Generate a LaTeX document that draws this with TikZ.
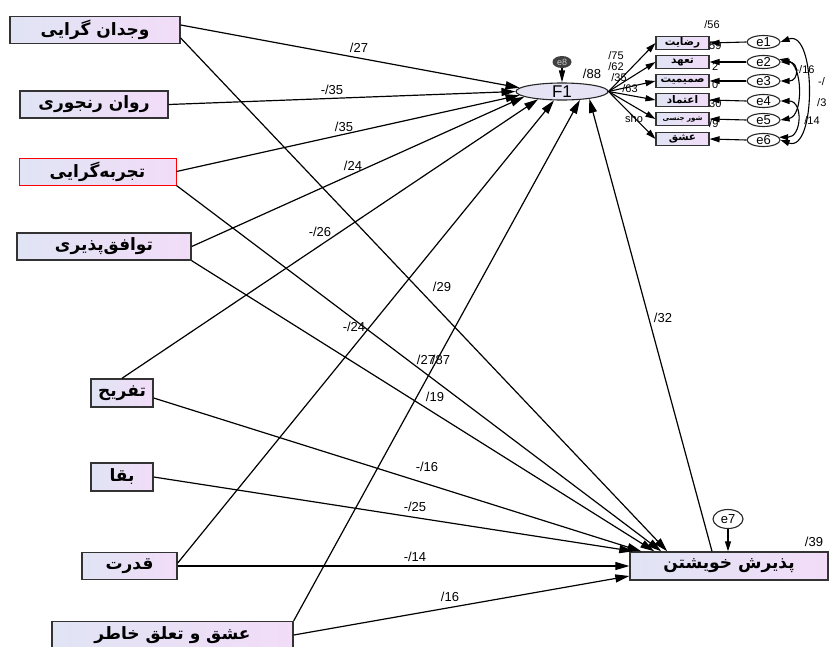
\documentclass[tikz,border=0pt]{standalone}
\usepackage{fontspec}
\setmainfont{Liberation Sans}
\newfontfamily\fa[Script=Arabic]{DejaVu Sans}
\TeXXeTstate=1
\usetikzlibrary{arrows.meta,shapes.geometric}
\definecolor{boxL}{RGB}{224,228,244}
\definecolor{boxR}{RGB}{242,220,248}
\definecolor{ellF}{RGB}{230,228,244}
\newcommand{\fatxt}[1]{\beginR #1\endR}
\begin{document}
\begin{tikzpicture}[x=1pt,y=-1pt,
 lbox/.style={draw=black!80, line width=1.4pt, left color=boxL, right color=boxR, minimum height=27pt, inner sep=0pt, font=\fa\bfseries\fontsize{17}{17}\selectfont},
 sbox/.style={draw=black!80, line width=1.1pt, left color=boxL, right color=boxR, minimum width=53pt, minimum height=13pt, inner sep=0pt, font=\fa\bfseries\fontsize{10.5}{10.5}\selectfont},
 errn/.style={ellipse, draw=black!85, line width=1.1pt, fill=white, minimum width=33pt, minimum height=13pt, inner sep=0pt, font=\fontsize{13}{13}\selectfont},
 arr/.style={-{Triangle[length=14pt,width=8pt]}, line width=1.2pt},
 sarr/.style={-{Triangle[length=10pt,width=6pt]}, line width=1.1pt},
 covar/.style={{Triangle[length=9pt,width=6pt]}-{Triangle[length=9pt,width=6pt]}, line width=1.1pt},
 lab/.style={inner sep=0pt, font=\fontsize{13}{13}\selectfont},
 slab/.style={inner sep=0pt, font=\fontsize{11}{11}\selectfont}]
\useasboundingbox (0,0) rectangle (829,646);
\fill[white] (0,0) rectangle (829,646);

% left observed variables
\node[lbox, minimum width=170pt] (vojdan) at (95,30) {\fatxt{وجدان گرایی}};
\node[lbox, minimum width=148pt] (ravan) at (94,104.5) {\fatxt{روان رنجوری}};
\node[lbox, minimum width=157pt, draw=red, line width=1pt] (tajrobe) at (97.5,171.5) {\fatxt{تجربه‌گرایی}};
\node[lbox, minimum width=174pt] (tavafogh) at (104,246.5) {\fatxt{توافق‌پذیری}};
\node[lbox, minimum width=62pt, minimum height=28pt] (tafrih) at (122,393) {\fatxt{تفریح}};
\node[lbox, minimum width=62pt, minimum height=28pt] (baqa) at (122,477) {\fatxt{بقا}};
\node[lbox, minimum width=95pt] (qodrat) at (129.5,566) {\fatxt{قدرت}};
\node[lbox, minimum width=241pt] (eshq) at (172.5,635) {\fatxt{عشق و تعلق خاطر}};
\node[lbox, minimum width=198pt, minimum height=28pt] (paz) at (729,566) {\fatxt{پذیرش خویشتن}};

% latent
\node[ellipse, draw=black!85, line width=1.1pt, fill=ellF, minimum width=92pt, minimum height=17pt, inner sep=0pt, font=\fontsize{17}{17}\selectfont] (F1) at (562,91.5) {F1};
\node[ellipse, fill=black!75, text=white!80!black, minimum width=19pt, minimum height=12pt, inner sep=0pt, font=\fontsize{9}{9}\selectfont] (e8) at (562,62) {e8};
\node[errn, minimum width=30pt, minimum height=19pt] (e7) at (728,519) {e7};

% indicators
\node[sbox] (s1) at (682.5,43) {\fatxt{رضایت}};
\node[sbox] (s2) at (682.5,62) {\fatxt{تعهد}};
\node[sbox] (s3) at (682.5,81) {\fatxt{صمیمیت}};
\node[sbox] (s4) at (682.5,100) {\fatxt{اعتماد}};
\node[sbox] (s5) at (682.5,119) {\fatxt{\fontsize{7}{7}\selectfont شور جنسی}};
\node[sbox] (s6) at (682.5,139) {\fatxt{عشق}};
\node[errn] (e1) at (763.5,42) {e1};
\node[errn] (e2) at (763.5,62) {e2};
\node[errn] (e3) at (763.5,81) {e3};
\node[errn] (e4) at (763.5,101) {e4};
\node[errn] (e5) at (763.5,120) {e5};
\node[errn] (e6) at (763.5,140) {e6};

% small labels near indicators
\node[slab] (l56) at (712,25) {/56};
\node[slab] (l75) at (616,56) {/75};
\node[slab] (l62) at (616,67) {/62};
\node[slab] (l35b) at (619,78) {/35};
\node[slab] (l63) at (630,89) {/63};
\node[slab] (lsho) at (634,119) {sho};
\node[slab, anchor=west] (r1) at (709,46) {59};
\node[slab, anchor=west] (r2) at (712,67) {2};
\node[slab, anchor=west] (r3) at (712,85) {0};
\node[slab, anchor=west] (r4) at (709,104) {30};
\node[slab, anchor=west] (r5) at (709,124) {/9};

% paths into F1
\draw[arr] ([yshift=5pt]vojdan.east) -- (F1.175);
\draw[arr] (ravan.east) -- (F1.180);
\draw[arr] (tajrobe.east) -- (F1.185);
\draw[arr] (tavafogh.east) -- (F1.188);
\draw[arr] (tafrih.north) -- (F1.198);
\draw[arr] ([yshift=3pt]qodrat.east) -- (F1.228);
\draw[arr] (eshq.north east) -- (F1.335);
\draw[arr] ([xshift=-17pt]paz.north) -- (F1.345);
\draw[-{Triangle[length=12pt,width=6pt]}, line width=1.2pt] (e8) -- (F1.north);

% paths into paz
\draw[arr] ([yshift=-8pt]vojdan.east) -- ([xshift=38pt]paz.north west);
\draw[arr] (tajrobe.south east) -- ([xshift=32pt]paz.north west);
\draw[arr] (tavafogh.south east) -- ([xshift=25pt]paz.north west);
\draw[arr] ([yshift=-5pt]tafrih.east) -- ([xshift=12pt]paz.north west);
\draw[arr] (baqa.east) -- ([xshift=4pt]paz.north west);
\draw[arr] (qodrat.east) -- (paz.west);
\draw[arr] (eshq.east) -- ([yshift=-10pt]paz.west);
\draw[sarr] (e7.south) -- (e7.south |- paz.north);

% F1 to indicators, errors to indicators
\foreach \i in {1,...,6} {
  \draw[sarr] (F1.east) -- (s\i.west);
  \draw[sarr] (e\i.west) -- (s\i.east);
}

% covariances
\draw[covar] (e1.east) to[out=20,in=-20,looseness=1] (e6.east);
\draw[covar] (e2.east) to[out=0,in=0,looseness=2.5] (e3.east);
\draw[covar] (e2.10) to[out=-10,in=10,looseness=1] (e5.east);
\draw[covar] (e4.east) to[out=0,in=0,looseness=1.6] (e6.10);
\node[slab] (c1) at (805,70) {-/16};
\node[slab] (c2) at (812,121) {/14};
\node[slab, anchor=west] (c3) at (817,103) {/3};
\node[slab, anchor=west] (c4) at (818,82) {-/};

% path coefficients
\node[lab] (p1) at (359,48) {/27};
\node[lab] (p2) at (332,90) {-/35};
\node[lab] (p3) at (344,127) {/35};
\node[lab] (p4) at (353,166) {/24};
\node[lab] (p5) at (320,232) {-/26};
\node[lab] (p6) at (442,287) {/29};
\node[lab] (p7) at (663,318) {/32};
\node[lab] (p8) at (354,327) {-/24};
\node[lab] (p9) at (426,360) {/27};
\node[lab] (p10) at (441,360) {/87};
\node[lab] (p11) at (435,397) {/19};
\node[lab] (p12) at (427,467) {-/16};
\node[lab] (p13) at (415,507) {-/25};
\node[lab] (p14) at (415,557) {-/14};
\node[lab] (p15) at (450,597) {/16};
\node[lab] (p16) at (592,74) {/88};
\node[lab] (p17) at (814,542) {/39};
\end{tikzpicture}
\end{document}
